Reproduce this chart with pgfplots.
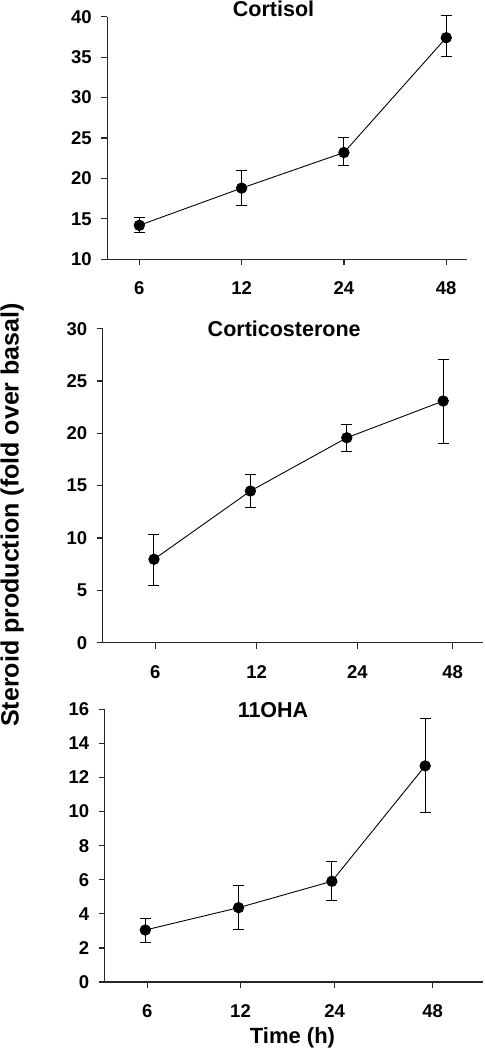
\documentclass[border=0pt]{standalone}
\usepackage{fontspec}
\setmainfont{Liberation Sans}
\usepackage{pgfplots}
\pgfplotsset{compat=1.18}
\pgfplotsset{panel/.style={
  scale only axis,
  anchor=south west,
  axis x line*=bottom,
  axis y line*=left,
  axis line style={-, line width=1.4bp, black!85},
  tick style={line width=1.2bp, black!85},
  tick align=outside,
  major tick length=6bp,
  xticklabels={6,12,24,48},
  /pgf/number format/assume math mode=true,
  ticklabel style={font=\bfseries\fontsize{18.5bp}{18.5bp}\selectfont},
  yticklabel style={xshift=-6bp},
  xticklabel style={yshift=-13bp},
  clip=false,
},
series/.style={black, line width=0.9bp, mark=*, mark size=5.2bp,
  mark options={fill=black, solid},
  error bars/.cd, y dir=both, y explicit,
  error bar style={line width=1bp, black},
  error mark options={rotate=90, line width=1bp, mark size=5.5bp, black}}
}
\begin{document}
\begin{tikzpicture}
\useasboundingbox (0bp,0bp) rectangle (485bp,1050bp);
% Panel 1: Cortisol
\begin{axis}[panel, at={(107.3bp,790.7bp)}, width=359.4bp, height=242.6bp,
  xmin=-0.313, xmax=3.2, ymin=10, ymax=40,
  ytick={10,15,20,25,30,35,40}, xtick={0,1,2,3}]
\addplot[series] coordinates {
  (0,14.2) += (0,1.0) -= (0,0.9)
  (1,18.8) += (0,2.16) -= (0,2.1)
  (2,23.2) += (0,1.8) -= (0,1.6)
  (3,37.4) += (0,2.7) -= (0,2.3)
};
\end{axis}
% Panel 2: Corticosterone
\begin{axis}[panel, at={(102.7bp,407.3bp)}, width=380.3bp, height=314bp,
  xmin=-0.532, xmax=3.413, ymin=0, ymax=30,
  ytick={0,5,10,15,20,25,30}, xtick={0.013,1.065,2.109,3.099}]
\addplot[series] coordinates {
  (0,7.97) += (0,2.38) -= (0,2.49)
  (1,14.49) += (0,1.59) -= (0,1.56)
  (2,19.58) += (0,1.31) -= (0,1.30)
  (3,23.09) += (0,4.01) -= (0,4.05)
};
\end{axis}
% Panel 3: 11OHA
\begin{axis}[panel, at={(104.7bp,68bp)}, width=378.3bp, height=272.7bp,
  xmin=-0.435, xmax=3.62, ymin=0, ymax=16,
  ytick={0,2,4,6,8,10,12,14,16}, xtick={0.021,1.021,2.029,3.08}]
\addplot[series] coordinates {
  (0,3.05) += (0,0.69) -= (0,0.74)
  (1,4.36) += (0,1.29) -= (0,1.29)
  (2,5.91) += (0,1.15) -= (0,1.12)
  (3,12.68) += (0,2.77) -= (0,2.76)
};
\end{axis}
% titles and labels
\node[anchor=base, font=\bfseries\fontsize{21.5bp}{21.5bp}\selectfont] at (273.5bp,1033.3bp) {Cortisol};
\node[anchor=base, font=\bfseries\fontsize{21.5bp}{21.5bp}\selectfont] at (284.2bp,713.3bp) {Corticosterone};
\node[anchor=base, font=\bfseries\fontsize{21.5bp}{21.5bp}\selectfont] at (273bp,332.7bp) {11OHA};
\node[anchor=base, font=\bfseries\fontsize{22bp}{22bp}\selectfont] at (292.5bp,6.7bp) {Time (h)};
\node[anchor=base, rotate=90, font=\bfseries\fontsize{25bp}{25bp}\selectfont, inner sep=0pt] at (18.5bp,535bp) {Steroid production (fold over basal)};
\end{tikzpicture}
\end{document}
